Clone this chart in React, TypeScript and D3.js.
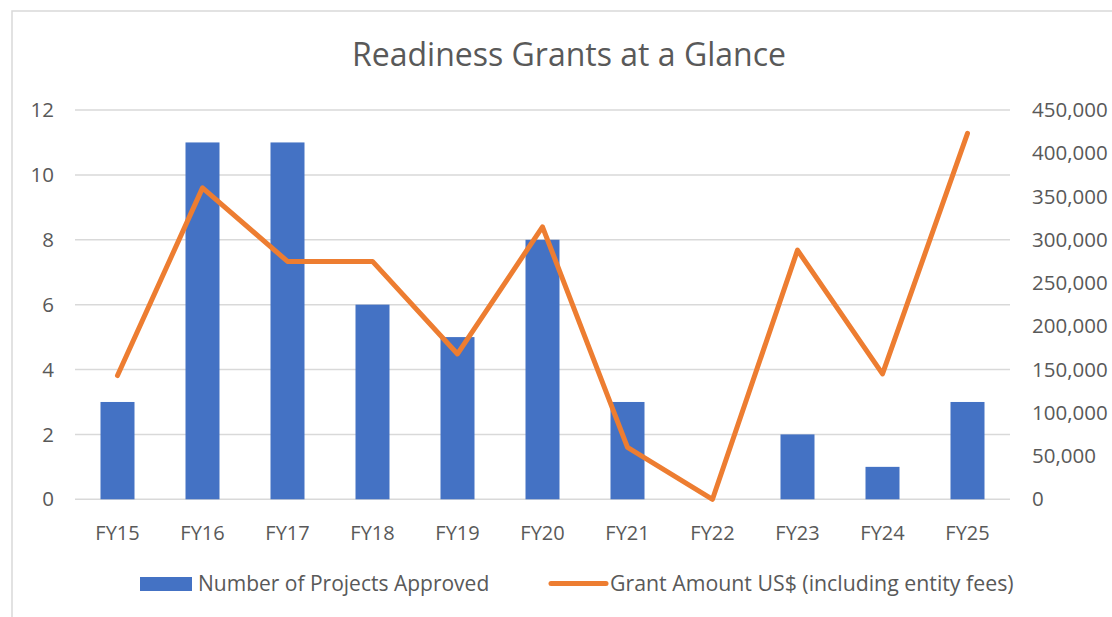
import React from "react";
import * as d3 from "d3";

const categories = ["FY15", "FY16", "FY17", "FY18", "FY19", "FY20", "FY21", "FY22", "FY23", "FY24", "FY25"];
const projectsApproved = [3, 11, 11, 6, 5, 8, 3, 0, 2, 1, 3];
const grantAmounts = [143000, 360000, 275000, 275000, 168000, 315000, 60000, 0, 288000, 145000, 423000];
const leftTicks = [0, 2, 4, 6, 8, 10, 12];
const rightTicks = [0, 50000, 100000, 150000, 200000, 250000, 300000, 350000, 400000, 450000];
const seriesNames = ["Number of Projects Approved", "Grant Amount US$ (including entity fees)"];
const title = "Readiness Grants at a Glance";

const W = 1112;
const H = 617;
const FONT = "'Open Sans', 'Noto Sans', sans-serif";
const TEXT = "#595959";
const BLUE = "#4472C4";
const ORANGE = "#ED7D31";
const GRID = "#d9d9d9";

export default function App() {
  const x = d3.scaleBand<string>().domain(categories).range([75, 1010]).paddingInner(0.6).paddingOuter(0.3);
  const yL = d3.scaleLinear().domain([0, 12]).range([499.3, 110]);
  const yR = d3.scaleLinear().domain([0, 450000]).range([499.3, 110]);
  const fmt = d3.format(",");
  const line = d3
    .line<number>()
    .x((_, i) => (x(categories[i]) as number) + x.bandwidth() / 2)
    .y((d) => yR(d));

  return (
    <div style={{ position: "absolute", left: 0, top: 0, width: W, height: H, background: "#fff" }}>
      <svg width={W} height={H} style={{ display: "block" }}>
        <rect x={0} y={0} width={W} height={H} fill="#fff" />
        <rect x={12} y={11} width={W + 20} height={H + 20} fill="none" stroke={GRID} strokeWidth={1.5} />
        <text x={569} y={66} textAnchor="middle" fontFamily={FONT} fontSize={32} fill={TEXT}>
          {title}
        </text>
        {leftTicks.map((t) => (
          <line key={"g" + t} x1={75} x2={1010} y1={yL(t)} y2={yL(t)} stroke={GRID} strokeWidth={1.5} />
        ))}
        {leftTicks.map((t) => (
          <text key={"l" + t} x={54} y={yL(t)} dy="0.35em" textAnchor="end" fontFamily={FONT} fontSize={20.5} fill={TEXT}>
            {t}
          </text>
        ))}
        {rightTicks.map((t) => (
          <text key={"r" + t} x={1032} y={yR(t)} dy="0.35em" textAnchor="start" fontFamily={FONT} fontSize={20.5} fill={TEXT}>
            {fmt(t)}
          </text>
        ))}
        {categories.map((c, i) => (
          <rect
            key={"b" + c}
            x={x(c)}
            y={yL(projectsApproved[i])}
            width={x.bandwidth()}
            height={yL(0) - yL(projectsApproved[i])}
            fill={BLUE}
          />
        ))}
        <path d={line(grantAmounts) || ""} fill="none" stroke={ORANGE} strokeWidth={5} strokeLinejoin="round" strokeLinecap="round" />
        {categories.map((c) => (
          <text key={"x" + c} x={(x(c) as number) + x.bandwidth() / 2} y={540} textAnchor="middle" fontFamily={FONT} fontSize={20} fill={TEXT}>
            {c}
          </text>
        ))}
        <rect x={140} y={577} width={52} height={14} fill={BLUE} />
        <text x={198} y={591} fontFamily={FONT} fontSize={21} fill={TEXT}>
          {seriesNames[0]}
        </text>
        <line x1={551} x2={606} y1={583.5} y2={583.5} stroke={ORANGE} strokeWidth={5} strokeLinecap="round" />
        <text x={610} y={591} fontFamily={FONT} fontSize={21.3} fill={TEXT}>
          {seriesNames[1]}
        </text>
      </svg>
    </div>
  );
}
